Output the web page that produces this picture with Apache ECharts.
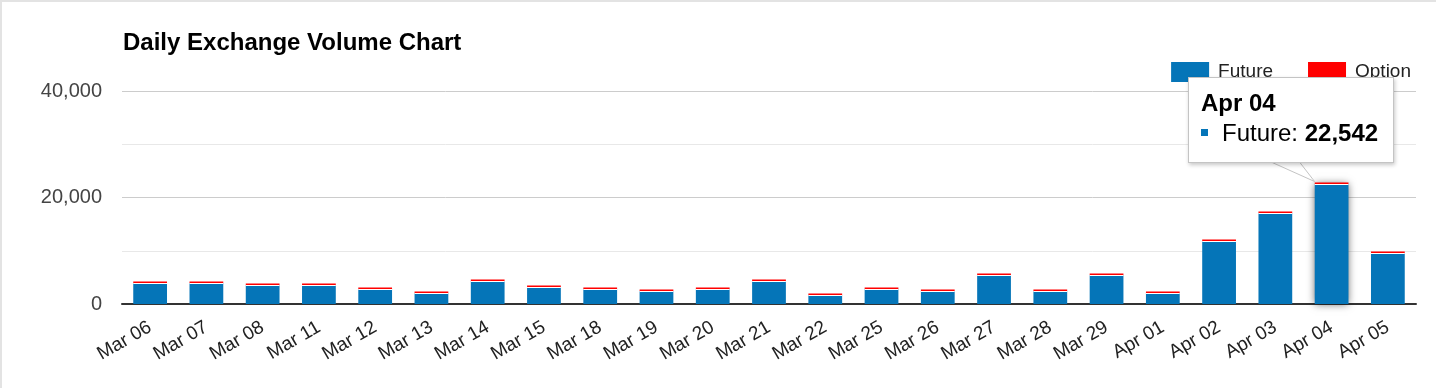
<!DOCTYPE html>
<html><head><meta charset="utf-8">
<script src="https://cdn.jsdelivr.net/npm/echarts@6/dist/echarts.min.js"></script>
<style>
html,body{margin:0;padding:0;background:#fff;}
#c{position:absolute;left:0;top:0;width:1436px;height:388px;}
#frame{position:absolute;left:0;top:0;width:1436px;height:388px;border-left:2px solid #e3e3e3;border-top:2px solid #e3e3e3;box-sizing:border-box;pointer-events:none;z-index:20}
</style></head><body>
<div id="c"></div><div id="frame"></div>
<script>
const categories = ['Mar 06','Mar 07','Mar 08','Mar 11','Mar 12','Mar 13','Mar 14','Mar 15','Mar 18','Mar 19','Mar 20','Mar 21','Mar 22','Mar 25','Mar 26','Mar 27','Mar 28','Mar 29','Apr 01','Apr 02','Apr 03','Apr 04','Apr 05'];
const futureValues = [3950,3950,3570,3570,2820,2070,4320,3190,2820,2440,2820,4320,1690,2820,2440,5450,2440,5450,2070,11830,17090,22542,9580];
const optionValues = [280,270,290,280,270,280,290,280,270,280,290,280,270,280,270,290,280,280,270,290,280,270,280];
const seriesNames = ['Future','Option'];
const yTickValues = [0,20000,40000];
const hoveredCategory = 'Apr 04';

const BLUE = '#0575b8', RED = '#ff0000';
const FONT = '"Liberation Sans", Arial, Helvetica, sans-serif';
const hl = categories.indexOf(hoveredCategory);
const chart = echarts.init(document.getElementById('c'));
const fmt = v => Number(v).toLocaleString('en-US');

function tipAnchor(){
  return chart.convertToPixel({xAxisIndex:0,yAxisIndex:0},[hl, futureValues[hl]+optionValues[hl]]);
}

chart.setOption({
  animation:false,
  backgroundColor:'#fff',
  title:{text:'Daily Exchange Volume Chart',left:118,top:26,textStyle:{fontFamily:FONT,fontSize:24,fontWeight:'bold',color:'#000'}},
  legend:{data:seriesNames,right:20,top:57,icon:'rect',itemWidth:38,itemHeight:20,itemGap:35,selectedMode:false,
    textStyle:{fontFamily:FONT,fontSize:19,color:'#222',padding:[0,0,0,4]}},
  grid:{left:122,right:20,top:91,bottom:84,containLabel:false},
  tooltip:{trigger:'item',triggerOn:'none',alwaysShowContent:true,transitionDuration:0,
    backgroundColor:'#fff',borderColor:'#c4c4c4',borderWidth:1,padding:[11,15,13,12],
    extraCssText:'box-shadow:1px 2px 4px rgba(0,0,0,0.22);border-radius:0;',
    textStyle:{fontFamily:FONT,fontSize:24,color:'#000'},
    position:function(){const p=tipAnchor();return [p[0]-144,p[1]-106];},
    formatter:function(p){
      return '<div style="font-family:'+FONT.replace(/"/g,"'")+';color:#000">'+
        '<div style="font-weight:bold;font-size:24px;line-height:28px">'+p.name+'</div>'+
        '<div style="font-size:24px;line-height:32px;white-space:nowrap"><span style="display:inline-block;width:7px;height:7px;background:'+p.color+';margin-right:14px;vertical-align:middle;position:relative;top:-2px"></span>'+p.seriesName+': <b>'+fmt(p.value)+'</b></div></div>';
    }},
  xAxis:{type:'category',data:categories,
    axisLine:{lineStyle:{color:'#333',width:2}},axisTick:{show:false},
    axisLabel:{interval:0,rotate:30,margin:22,fontFamily:FONT,fontSize:19,color:'#222'}},
  yAxis:{type:'value',min:yTickValues[0],max:yTickValues[yTickValues.length-1],interval:yTickValues[1]-yTickValues[0],
    axisLine:{show:false},axisTick:{show:false},
    axisLabel:{margin:20,fontFamily:FONT,fontSize:20,color:'#444',formatter:fmt},
    splitLine:{lineStyle:{color:'#cccccc',width:1}},
    minorTick:{show:false,splitNumber:2},
    minorSplitLine:{show:true,lineStyle:{color:'#e8e8e8',width:1}}},
  series:[
    {name:seriesNames[0],type:'bar',stack:'vol',data:futureValues,barWidth:'60%',
      itemStyle:{color:BLUE},
      emphasis:{itemStyle:{color:BLUE,shadowBlur:8,shadowColor:'rgba(0,0,0,0.6)'}}},
    {name:seriesNames[1],type:'bar',stack:'vol',data:optionValues,
      itemStyle:{color:RED,shadowColor:'#ffffff',shadowOffsetY:1,shadowBlur:0},
      emphasis:{itemStyle:{color:RED,shadowColor:'#ffffff',shadowOffsetY:1,shadowBlur:0}}}
  ]
});

const a = tipAnchor();
const boxBottom = a[1]-106+86;
chart.setOption({graphic:[
  {type:'polygon',z:100,shape:{points:[[a[0]-66,boxBottom-3],[a[0]-17,a[1]-1],[a[0]-34,boxBottom-3]]},
   style:{fill:'#fff',stroke:'#c4c4c4',lineWidth:1}}
]});
chart.dispatchAction({type:'highlight',seriesIndex:[0,1],dataIndex:hl});
chart.dispatchAction({type:'showTip',seriesIndex:0,dataIndex:hl});
</script>
</body></html>
